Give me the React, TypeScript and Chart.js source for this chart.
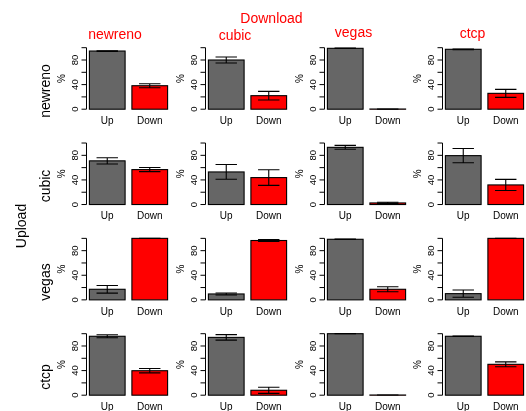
import React, { useEffect, useRef } from "react";
import { Chart, registerables } from "chart.js";

Chart.register(...registerables);

// Column (download) and row (upload) algorithms
const downloadAlgos = ["newreno", "cubic", "vegas", "ctcp"];
const uploadAlgos = ["newreno", "cubic", "vegas", "ctcp"];
const barLabels = ["Up", "Down"];

// Mean utilisation (%) per [upload row][download column]
const upMean = [
  [94.6, 80, 99, 97.4],
  [71, 53, 93, 79.5],
  [17.2, 9.6, 98.5, 10.1],
  [95.8, 94, 100, 95.8],
];
const upErr = [
  [0.5, 4.9, 0.3, 0.5],
  [5, 12, 3.2, 11.6],
  [6.2, 1.6, 0.3, 5.9],
  [2.4, 4.4, 0.2, 0.3],
];
const downMean = [
  [38.2, 22, 0.3, 25.8],
  [56.8, 43.8, 2.6, 31.9],
  [100, 96.5, 17.2, 100],
  [39.8, 8, 0.3, 50.2],
];
const downErr = [
  [3.2, 7, 0.1, 6.5],
  [3.3, 12.7, 1, 9],
  [0.1, 1.5, 4, 0.1],
  [3.5, 5, 0.1, 4],
];

const yTicks = [0, 20, 40, 60, 80, 100];
const yTickLabels = ["0", "", "40", "", "80", ""];
const yLabel = "%";
const topTitle = "Download";
const sideTitle = "Upload";

const FONT = "'Liberation Sans', Arial, Helvetica, sans-serif";
const PANEL_W = 125;
const PANEL_H = 106;
const AXIS_IN = 35;

const colAxisX = (c: number) => 86.7 + 118.67 * c;
const rowZeroY = (r: number) => 109.2 + 95.33 * r;

function makePlugin(r: number, c: number) {
  return {
    id: "rstyle",
    afterDatasetsDraw(chart: any) {
      const ctx = chart.ctx as CanvasRenderingContext2D;
      const ys = chart.scales.y;
      const meta = chart.getDatasetMeta(0);
      const means = [upMean[r][c], downMean[r][c]];
      const errs = [upErr[r][c], downErr[r][c]];
      ctx.save();
      ctx.strokeStyle = "#000";
      ctx.lineWidth = 1.1;
      // bar outlines
      meta.data.forEach((bar: any) => {
        const p = bar.getProps(["x", "y", "base", "width"], true);
        const left = p.x - p.width / 2;
        const top = Math.min(p.y, p.base);
        const h = Math.abs(p.base - p.y);
        ctx.strokeRect(left, top, p.width, h);
      });
      // error bars
      ctx.lineWidth = 1.1;
      meta.data.forEach((bar: any, i: number) => {
        const p = bar.getProps(["x", "width"], true);
        const hw = p.width * 0.3;
        const hi = ys.getPixelForValue(means[i] + errs[i]);
        const lo = ys.getPixelForValue(Math.max(0, means[i] - errs[i]));
        ctx.beginPath();
        ctx.moveTo(p.x, hi);
        ctx.lineTo(p.x, lo);
        ctx.moveTo(p.x - hw, hi);
        ctx.lineTo(p.x + hw, hi);
        ctx.moveTo(p.x - hw, lo);
        ctx.lineTo(p.x + hw, lo);
        ctx.stroke();
      });
      // R-style y axis
      const ax = Math.round(chart.chartArea.left) + 0.5;
      ctx.lineWidth = 1;
      ctx.beginPath();
      ctx.moveTo(ax, ys.getPixelForValue(yTicks[0]));
      ctx.lineTo(ax, ys.getPixelForValue(yTicks[yTicks.length - 1]));
      yTicks.forEach((v) => {
        const py = ys.getPixelForValue(v);
        ctx.moveTo(ax - 5, py);
        ctx.lineTo(ax, py);
      });
      ctx.stroke();
      ctx.fillStyle = "#000";
      ctx.font = `9.5px ${FONT}`;
      ctx.textAlign = "center";
      ctx.textBaseline = "middle";
      yTicks.forEach((v, i) => {
        const lab = yTickLabels[i];
        if (!lab) return;
        ctx.save();
        ctx.translate(ax - 11.4, ys.getPixelForValue(v));
        ctx.rotate(-Math.PI / 2);
        ctx.fillText(lab, 0, 0);
        ctx.restore();
      });
      ctx.font = `10px ${FONT}`;
      ctx.save();
      ctx.translate(ax - 24.5, ys.getPixelForValue(50));
      ctx.rotate(-Math.PI / 2);
      ctx.fillText(yLabel, 0, 0);
      ctx.restore();
      ctx.restore();
    },
  };
}

function Panel({ r, c }: { r: number; c: number }) {
  const ref = useRef<HTMLCanvasElement>(null);
  const axisX = colAxisX(c);
  const zeroY = rowZeroY(r);
  const left = Math.round(axisX - 0.5) - AXIS_IN;
  const top = Math.round(zeroY) - 82;
  useEffect(() => {
    const zeroInCanvas = zeroY - top;
    const px100 = 61.5;
    const areaTop = zeroInCanvas - px100 * 1.04;
    const areaBottom = zeroInCanvas + px100 * 0.04;
    const xScaleH = 17;
    const chart = new Chart(ref.current as HTMLCanvasElement, {
      type: "bar",
      data: {
        labels: barLabels,
        datasets: [
          {
            data: [upMean[r][c], downMean[r][c]],
            backgroundColor: ["#666666", "#ff0000"],
            borderWidth: 0,
            barPercentage: 0.84,
            categoryPercentage: 1,
          },
        ],
      },
      options: {
        animation: false,
        responsive: false,
        maintainAspectRatio: false,
        events: [],
        layout: {
          padding: {
            left: AXIS_IN,
            right: PANEL_W - AXIS_IN - 85,
            top: areaTop,
            bottom: PANEL_H - areaBottom - xScaleH,
          },
        },
        plugins: {
          legend: { display: false },
          tooltip: { enabled: false },
          title: { display: false },
        },
        scales: {
          x: {
            grid: { display: false, drawTicks: false },
            border: { display: false },
            ticks: {
              color: "#000",
              font: { family: FONT, size: 10 },
              padding: 3.7,
            },
            afterFit: (s: any) => {
              s.height = xScaleH;
            },
          },
          y: { display: false, min: -4, max: 104 },
        },
      },
      plugins: [makePlugin(r, c)],
    } as any);
    return () => chart.destroy();
  }, []);
  return (
    <canvas
      ref={ref}
      width={PANEL_W}
      height={PANEL_H}
      style={{ position: "absolute", left, top, width: PANEL_W, height: PANEL_H }}
    />
  );
}

const colTitleX = [115, 235, 353.5, 472.5];
const colTitleBaseline = [39, 40, 37, 38];

function Label({
  text,
  x,
  y,
  rotate,
  color,
  size,
}: {
  text: string;
  x: number;
  y: number;
  rotate?: boolean;
  color?: string;
  size: number;
}) {
  return (
    <div
      style={{
        position: "absolute",
        left: x,
        top: y,
        transform: `translate(-50%, -50%)${rotate ? " rotate(-90deg)" : ""}`,
        fontFamily: FONT,
        fontSize: size,
        lineHeight: 1,
        color: color || "#000",
        whiteSpace: "nowrap",
      }}
    >
      {text}
    </div>
  );
}

export default function App() {
  return (
    <div
      style={{
        position: "absolute",
        left: 0,
        top: 0,
        width: 526,
        height: 411,
        overflow: "hidden",
        background: "#fff",
      }}
    >
      {uploadAlgos.map((_, r) =>
        downloadAlgos.map((_, c) => <Panel key={`${r}-${c}`} r={r} c={c} />)
      )}
      <Label text={topTitle} x={271.5} y={17.5} color="#ff0000" size={14} />
      {downloadAlgos.map((name, c) => (
        <Label
          key={name}
          text={name}
          x={colTitleX[c]}
          y={colTitleBaseline[c] - 4.85}
          color="#ff0000"
          size={14}
        />
      ))}
      {uploadAlgos.map((name, r) => (
        <Label key={name} text={name} x={44.5} y={rowZeroY(r) - 18.3} rotate size={14} />
      ))}
      <Label text={sideTitle} x={21} y={225.5} rotate size={14} />
    </div>
  );
}
